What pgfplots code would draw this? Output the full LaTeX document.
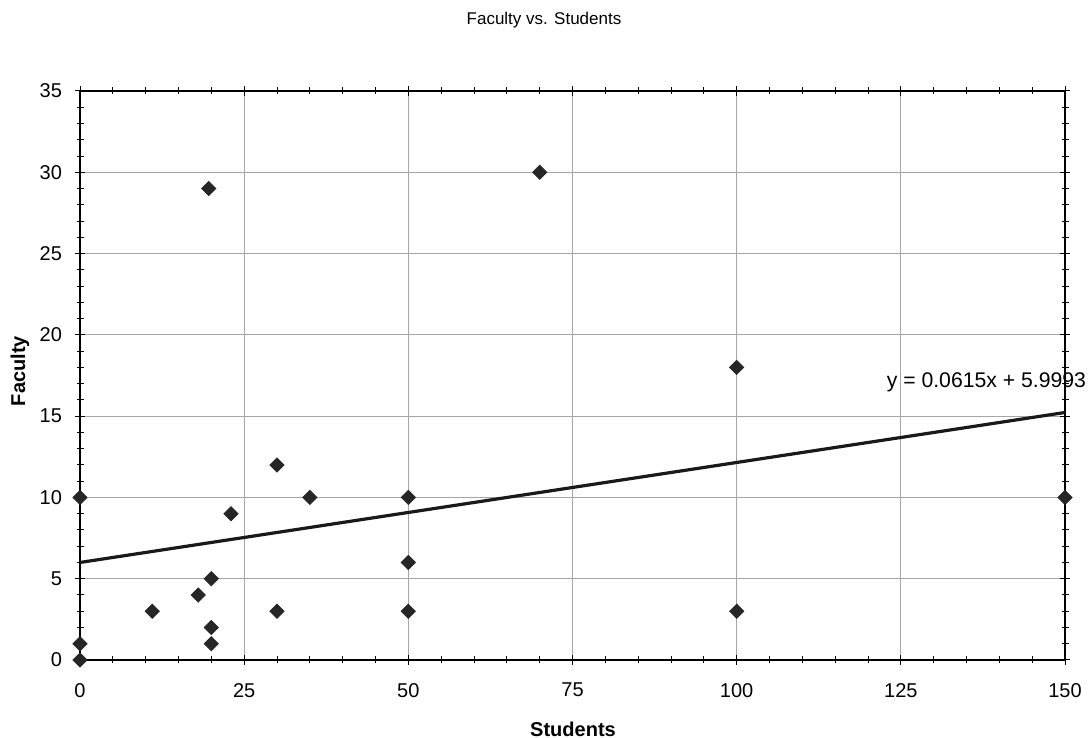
\documentclass[border=0pt]{standalone}
\usepackage{pgfplots}
\pgfplotsset{compat=1.18}
\usepackage{fontspec}
\setmainfont{Liberation Sans}
\begin{document}
\begin{tikzpicture}
\begin{axis}[
  name=ax,
  at={(0pt,0pt)}, anchor=south west,
  scale only axis,
  width=492.5pt, height=284.5pt,
  xmin=0, xmax=150, ymin=0, ymax=35,
  xtick={0,25,...,150}, ytick={0,5,...,35},
  minor x tick num=4, minor y tick num=4,
  tick align=center,
  major tick length=5pt, minor tick length=3.5pt,
  tick style={black, line width=0.5pt},
  grid=major,
  major grid style={gray!70, line width=0.4pt},
  axis line style={black, line width=0.9pt},
  ticklabel style={font=\fontsize{10}{12}\selectfont},
  /pgf/number format/assume math mode=true,
  xticklabel style={yshift=-5.5pt},
  yticklabel style={xshift=-3pt},
  clip=false,
]
\addplot[only marks, mark=square*, mark size=2.5pt, mark options={rotate=45, fill=black!85, draw=black!85}] coordinates {
(0,0) (0,1) (0,10) (11,3) (18,4) (20,5) (20,2) (20,1) (19.6,29) (23,9)
(30,12) (30,3) (35,10) (50,10) (50,6) (50,3) (70,30) (100,18) (100,3) (150,10)
};
\addplot[black!90, line width=1.6pt] coordinates {(0,5.9993) (150,15.2243)};
\node[anchor=west, font=\fontsize{10.6}{12}\selectfont, inner sep=0pt] at (axis cs:122.8,17.1) {y = 0.0615x + 5.9993};
\end{axis}
\pgfresetboundingbox
\useasboundingbox (-40pt,-39pt) rectangle (504pt,330pt);
\node[font=\fontsize{8.5}{10}\selectfont] at (232pt,320pt) {Faculty vs. Students};
\node[font=\bfseries\fontsize{10}{12}\selectfont] at (246.5pt,-34.5pt) {Students};
\node[font=\bfseries\fontsize{10}{12}\selectfont, rotate=90] at (-30pt,144.5pt) {Faculty};
\end{tikzpicture}
\end{document}
